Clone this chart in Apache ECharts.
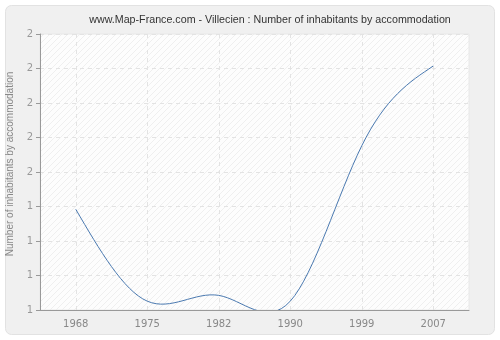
<!DOCTYPE html>
<html>
<head>
<meta charset="utf-8">
<script src="https://cdn.jsdelivr.net/npm/echarts@6/dist/echarts.min.js"></script>
<style>html,body{margin:0;padding:0;background:#fff;}#c{width:500px;height:340px;}</style>
</head>
<body>
<div id="c"></div>
<script>
var categories = ['1968', '1975', '1982', '1990', '1999', '2007'];
var values = [1.365, 1.032, 1.053, 1.032, 1.595, 1.884];
var yMin = 1, yMax = 2, yStep = 0.125;

var pc = document.createElement('canvas');
pc.width = 6; pc.height = 6;
var g = pc.getContext('2d');
g.fillStyle = '#fdfdfd';
g.fillRect(0, 0, 6, 6);
g.strokeStyle = '#efefef';
g.lineWidth = 1;
g.beginPath();
g.moveTo(0, 6); g.lineTo(6, 0);
g.moveTo(-3, 3); g.lineTo(3, -3);
g.moveTo(3, 9); g.lineTo(9, 3);
g.stroke();

// natural cubic spline through pixel points -> bezier path
function splinePath(pts) {
  var n = pts.length;
  var xs = pts.map(function (p) { return p[0]; });
  var ys = pts.map(function (p) { return p[1]; });
  var h = [], i;
  for (i = 0; i < n - 1; i++) h.push(xs[i + 1] - xs[i]);
  var a = [], b = [], c = [], d = [];
  for (i = 0; i < n; i++) {
    if (i === 0 || i === n - 1) { a.push(0); b.push(1); c.push(0); d.push(0); }
    else {
      a.push(h[i - 1]); b.push(2 * (h[i - 1] + h[i])); c.push(h[i]);
      d.push(6 * ((ys[i + 1] - ys[i]) / h[i] - (ys[i] - ys[i - 1]) / h[i - 1]));
    }
  }
  for (i = 1; i < n; i++) {
    var w = a[i] / b[i - 1];
    b[i] -= w * c[i - 1]; d[i] -= w * d[i - 1];
  }
  var M = new Array(n);
  M[n - 1] = d[n - 1] / b[n - 1];
  for (i = n - 2; i >= 0; i--) M[i] = (d[i] - c[i] * M[i + 1]) / b[i];
  var path = 'M' + xs[0] + ' ' + ys[0];
  for (i = 0; i < n - 1; i++) {
    var hi = h[i];
    var m0 = (ys[i + 1] - ys[i]) / hi - hi * (2 * M[i] + M[i + 1]) / 6;
    var m1 = (ys[i + 1] - ys[i]) / hi + hi * (M[i] + 2 * M[i + 1]) / 6;
    path += ' C' + (xs[i] + hi / 3) + ' ' + (ys[i] + m0 * hi / 3) + ' ' +
      (xs[i + 1] - hi / 3) + ' ' + (ys[i + 1] - m1 * hi / 3) + ' ' +
      xs[i + 1] + ' ' + ys[i + 1];
  }
  return path;
}

var seriesData = values.map(function (v, i) { return [i, v]; });

var chart = echarts.init(document.getElementById('c'), null, {renderer: 'canvas'});
chart.setOption({
  animation: false,
  backgroundColor: '#ffffff',
  graphic: [{
    type: 'rect', z: -10, silent: true,
    shape: {x: 5.5, y: 5.5, width: 489, height: 329, r: 6},
    style: {fill: '#f0f0f0', stroke: '#e2e2e2', lineWidth: 1}
  }],
  title: {
    text: 'www.Map-France.com - Villecien : Number of inhabitants by accommodation',
    left: 265, top: 10, textAlign: 'center',
    textStyle: {fontFamily: 'Liberation Sans', fontSize: 10.7, fontWeight: 'normal', color: '#333'}
  },
  grid: {
    left: 40, right: 31, top: 34, bottom: 30, containLabel: false, outerBoundsMode: 'none',
    show: true, backgroundColor: {image: pc, repeat: 'repeat'}, borderColor: '#e8e8e8', borderWidth: 1
  },
  xAxis: {
    type: 'category', data: categories, boundaryGap: true,
    axisLine: {lineStyle: {color: '#999', width: 1}},
    axisTick: {alignWithLabel: true, length: 5, lineStyle: {color: '#999'}},
    axisLabel: {color: '#888', fontFamily: 'DejaVu Sans', fontSize: 10, margin: 9},
    splitLine: {show: true, alignWithLabel: true, lineStyle: {color: '#e3e3e3', type: [4, 4]}}
  },
  yAxis: {
    type: 'value', min: yMin, max: yMax, interval: yStep,
    name: 'Number of inhabitants by accommodation', nameLocation: 'middle', nameGap: 20,
    nameTextStyle: {color: '#888', fontFamily: 'Liberation Sans', fontSize: 10, padding: [0, 0, 0, 16]},
    axisLine: {show: true, lineStyle: {color: '#999', width: 1}},
    axisTick: {show: true, length: 4, lineStyle: {color: '#999'}},
    axisLabel: {color: '#999', fontFamily: 'DejaVu Sans', fontSize: 10, margin: 7,
      formatter: function (v) { return String(Math.round(v)); }},
    splitLine: {show: true, lineStyle: {color: '#e3e3e3', type: [4, 4]}}
  },
  series: [{
    type: 'custom', clip: true, data: seriesData,
    encode: {x: 0, y: 1},
    renderItem: function (params, api) {
      if (params.dataIndex !== 0) return null;
      var pts = seriesData.map(function (d) { return api.coord([d[0], d[1]]); });
      return {
        type: 'path',
        shape: {pathData: splinePath(pts)},
        style: {fill: 'none', stroke: '#4a79b0', lineWidth: 1}
      };
    }
  }]
});
</script>
</body>
</html>
